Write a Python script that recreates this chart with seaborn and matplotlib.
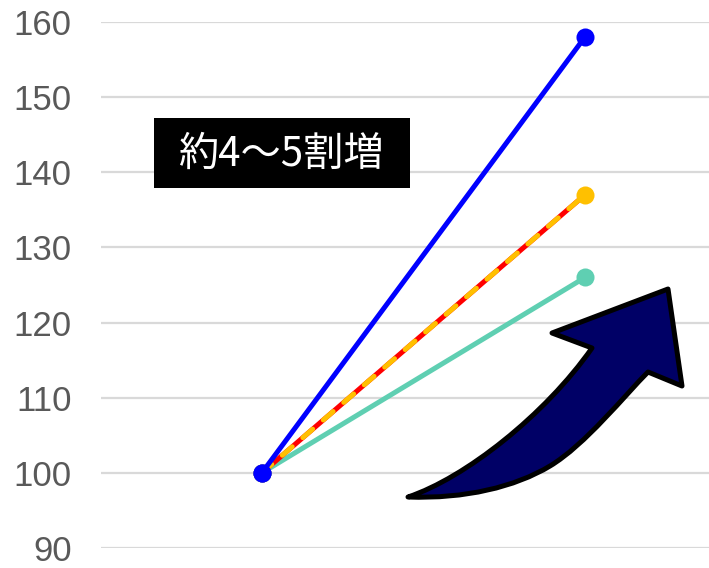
import numpy as np
import pandas as pd
import matplotlib
matplotlib.use("Agg")
import matplotlib.pyplot as plt
import seaborn as sns
from matplotlib.patches import Rectangle, PathPatch
from matplotlib.path import Path

# ---- data ----
periods = [0, 1]
blue_vals = [100, 158]
redorange_vals = [100, 137]
teal_vals = [100, 126]
y_ticks = [90, 100, 110, 120, 130, 140, 150, 160]
label_text = "約4～5割増"

W, H = 709, 568
sns.set_theme(style="white")
plt.rcParams['font.family'] = ['Liberation Sans', 'Noto Sans CJK JP', 'DejaVu Sans']

fig = plt.figure(figsize=(W / 100, H / 100), dpi=100)
ax = fig.add_axes([101 / W, 1 - 548 / H, (W - 101) / W, (548 - 22) / H])

df_teal = pd.DataFrame({"x": periods, "y": teal_vals})
df_ro = pd.DataFrame({"x": periods, "y": redorange_vals})
df_blue = pd.DataFrame({"x": periods, "y": blue_vals})

lw = 3.6
ms = 13
sns.lineplot(data=df_teal, x="x", y="y", ax=ax, color="#5FCFB2", lw=lw,
             marker="o", markersize=ms, markeredgewidth=0, clip_on=False, zorder=3)
sns.lineplot(data=df_ro, x="x", y="y", ax=ax, color="#FF0000", lw=lw,
             marker="o", markersize=ms, markeredgewidth=0, markerfacecolor="#FFC000",
             clip_on=False, zorder=3)
sns.lineplot(data=df_ro, x="x", y="y", ax=ax, color="#FFC000", lw=lw,
             clip_on=False, zorder=3.1)
ax.lines[-1].set_dashes([2.6, 2.8])
ax.lines[-1].set_dash_capstyle("round")
sns.lineplot(data=df_blue, x="x", y="y", ax=ax, color="#0000FF", lw=lw,
             marker="o", markersize=ms, markeredgewidth=0, clip_on=False, zorder=4)
ax.plot([periods[0]], [blue_vals[0]], marker="o", color="#0000FF", markersize=ms,
        markeredgewidth=0, zorder=5, clip_on=False)

ax.set_xlim(-0.498, 1.384)
ax.set_ylim(90, 160)
ax.set_yticks(y_ticks)
ax.set_xticks([])
ax.set_xlabel("")
ax.set_ylabel("")
ax.yaxis.grid(True, color="#D9D9D9", lw=1.6)
ax.set_axisbelow(True)
for s in ax.spines.values():
    s.set_visible(False)
ax.tick_params(axis="y", length=0, pad=21, labelsize=25, labelcolor="#595959")

# ---- text box ----
def fx(px):
    return px / W

def fy(py):
    return 1 - py / H

fig.patches.append(Rectangle((fx(154), fy(188)), fx(410) - fx(154), fy(118) - fy(188),
                             transform=fig.transFigure, facecolor="black", edgecolor="none",
                             zorder=6))
fig.text(fx(281), fy(154), label_text, color="white", fontsize=29,
         family=['Noto Sans CJK JP', 'DejaVu Sans'], ha="center", va="center", zorder=7)

# ---- curved arrow ----
verts = [(408, 497),
         (465, 478), (545, 415), (592, 348),
         (552, 333), (668, 289), (682, 386), (648, 372),
         (625, 395), (585, 445), (550, 466),
         (515, 487), (465, 499), (408, 497),
         (408, 497)]
codes = [Path.MOVETO,
         Path.CURVE4, Path.CURVE4, Path.CURVE4,
         Path.LINETO, Path.LINETO, Path.LINETO, Path.LINETO,
         Path.CURVE4, Path.CURVE4, Path.CURVE4,
         Path.CURVE4, Path.CURVE4, Path.CURVE4,
         Path.CLOSEPOLY]
path = Path([(fx(x), fy(y)) for x, y in verts], codes)
fig.patches.append(PathPatch(path, transform=fig.transFigure, facecolor="#000066",
                             edgecolor="black", lw=3.6, joinstyle="round", zorder=6))

fig.savefig("out.png", dpi=100)
